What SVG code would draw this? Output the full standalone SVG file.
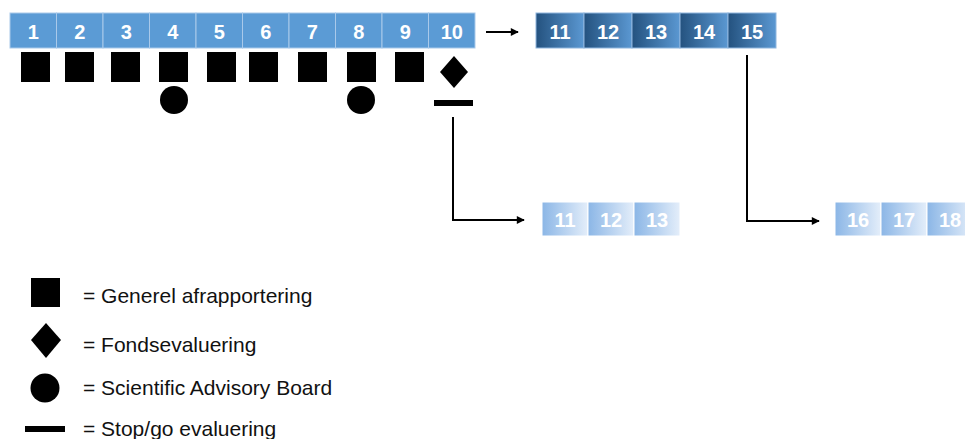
<svg xmlns="http://www.w3.org/2000/svg" width="965" height="439" viewBox="0 0 965 439">
  <defs>
    <linearGradient id="gDark" x1="0" y1="0" x2="1" y2="0">
      <stop offset="0" stop-color="#24527f"/>
      <stop offset="1" stop-color="#5b98d2"/>
    </linearGradient>
    <linearGradient id="gLight" x1="0" y1="0" x2="1" y2="0">
      <stop offset="0" stop-color="#8bb6e6"/>
      <stop offset="1" stop-color="#e4eefa"/>
    </linearGradient>
    <marker id="arr" viewBox="0 0 10 10" refX="9" refY="5" markerWidth="4.5" markerHeight="4" orient="auto" markerUnits="strokeWidth">
      <path d="M0,0 L10,5 L0,10 Z" fill="#000"/>
    </marker>
  </defs>
  <style>
    .c { fill: #5b9bd5; stroke: #a9c9ea; stroke-width: 1; }
    .cd { fill: url(#gDark); stroke: #8fb6de; stroke-width: 1; }
    .cl { fill: url(#gLight); stroke: #ffffff; stroke-width: 1; }
    .n { font-family: "Liberation Sans", Arial, sans-serif; font-weight: bold; font-size: 20px; fill: #ffffff; text-anchor: middle; }
    .lg { font-family: "Liberation Sans", Arial, sans-serif; font-size: 21px; fill: #111111; }
    .m { fill: #000000; }
    .conn { fill: none; stroke: #000000; stroke-width: 2; }
  </style>

  <rect width="965" height="439" fill="#ffffff"/>

  <g id="top-bar">
    <g id="cell-1"><rect class="c" x="10" y="13" width="46.5" height="35"/><text class="n" x="33.25" y="39">1</text></g>
    <g id="cell-2"><rect class="c" x="56.5" y="13" width="46.5" height="35"/><text class="n" x="79.75" y="39">2</text></g>
    <g id="cell-3"><rect class="c" x="103" y="13" width="46.5" height="35"/><text class="n" x="126.25" y="39">3</text></g>
    <g id="cell-4"><rect class="c" x="149.5" y="13" width="46.5" height="35"/><text class="n" x="172.75" y="39">4</text></g>
    <g id="cell-5"><rect class="c" x="196" y="13" width="46.5" height="35"/><text class="n" x="219.25" y="39">5</text></g>
    <g id="cell-6"><rect class="c" x="242.5" y="13" width="46.5" height="35"/><text class="n" x="265.75" y="39">6</text></g>
    <g id="cell-7"><rect class="c" x="289" y="13" width="46.5" height="35"/><text class="n" x="312.25" y="39">7</text></g>
    <g id="cell-8"><rect class="c" x="335.5" y="13" width="46.5" height="35"/><text class="n" x="358.75" y="39">8</text></g>
    <g id="cell-9"><rect class="c" x="382" y="13" width="46.5" height="35"/><text class="n" x="405.25" y="39">9</text></g>
    <g id="cell-10"><rect class="c" x="428.5" y="13" width="46.5" height="35"/><text class="n" x="451.75" y="39">10</text></g>
  </g>

  <g id="dark-bar">
    <g id="dcell-11"><rect class="cd" x="536" y="13" width="48" height="35"/><text class="n" x="560" y="39">11</text></g>
    <g id="dcell-12"><rect class="cd" x="584" y="13" width="48" height="35"/><text class="n" x="608" y="39">12</text></g>
    <g id="dcell-13"><rect class="cd" x="632" y="13" width="48" height="35"/><text class="n" x="656" y="39">13</text></g>
    <g id="dcell-14"><rect class="cd" x="680" y="13" width="48" height="35"/><text class="n" x="704" y="39">14</text></g>
    <g id="dcell-15"><rect class="cd" x="728" y="13" width="48" height="35"/><text class="n" x="752" y="39">15</text></g>
  </g>

  <g id="light-bar-a">
    <g id="lcell-11"><rect class="cl" x="542" y="202" width="46" height="34"/><text class="n" x="565" y="227">11</text></g>
    <g id="lcell-12"><rect class="cl" x="588" y="202" width="46" height="34"/><text class="n" x="611" y="227">12</text></g>
    <g id="lcell-13"><rect class="cl" x="634" y="202" width="46" height="34"/><text class="n" x="657" y="227">13</text></g>
  </g>

  <g id="light-bar-b">
    <g id="lcell-16"><rect class="cl" x="835" y="202" width="46" height="34"/><text class="n" x="858" y="227">16</text></g>
    <g id="lcell-17"><rect class="cl" x="881" y="202" width="46" height="34"/><text class="n" x="904" y="227">17</text></g>
    <g id="lcell-18"><rect class="cl" x="927" y="202" width="46" height="34"/><text class="n" x="950" y="227">18</text></g>
  </g>

  <g id="markers">
    <g id="sq-1"><rect class="m" x="21" y="52" width="29" height="30"/></g>
    <g id="sq-2"><rect class="m" x="65" y="52" width="29" height="30"/></g>
    <g id="sq-3"><rect class="m" x="111" y="52" width="29" height="30"/></g>
    <g id="sq-4"><rect class="m" x="159" y="52" width="29" height="30"/></g>
    <g id="sq-5"><rect class="m" x="207" y="52" width="29" height="30"/></g>
    <g id="sq-6"><rect class="m" x="249" y="52" width="29" height="30"/></g>
    <g id="sq-7"><rect class="m" x="298" y="52" width="29" height="30"/></g>
    <g id="sq-8"><rect class="m" x="347" y="52" width="29" height="30"/></g>
    <g id="sq-9"><rect class="m" x="395" y="52" width="29" height="30"/></g>
    <g id="diamond-10"><polygon class="m" points="454,56 468,72 454,88 440,72"/></g>
    <g id="circle-4"><circle class="m" cx="174" cy="100" r="14"/></g>
    <g id="circle-8"><circle class="m" cx="361" cy="100" r="14"/></g>
    <g id="stopgo-10"><rect class="m" x="434" y="100" width="39" height="6"/></g>
  </g>

  <g id="connectors">
    <line class="conn" x1="486" y1="32" x2="518" y2="32" marker-end="url(#arr)"/>
    <polyline class="conn" points="453,117 453,220 524,220" marker-end="url(#arr)"/>
    <polyline class="conn" points="747,55 747,221 819,221" marker-end="url(#arr)"/>
  </g>

  <g id="legend">
    <g id="legend-square"><rect class="m" x="31" y="278" width="29" height="29"/><text class="lg" x="83" y="303">= Generel afrapportering</text></g>
    <g id="legend-diamond"><polygon class="m" points="46,323 61,340 46,358 31,340"/><text class="lg" x="83" y="352">= Fondsevaluering</text></g>
    <g id="legend-circle"><circle class="m" cx="45" cy="388" r="14.5"/><text class="lg" x="83" y="395">= Scientific Advisory Board</text></g>
    <g id="legend-bar"><rect class="m" x="25" y="426" width="40" height="6"/><text class="lg" x="83" y="436">= Stop/go evaluering</text></g>
  </g>
</svg>
